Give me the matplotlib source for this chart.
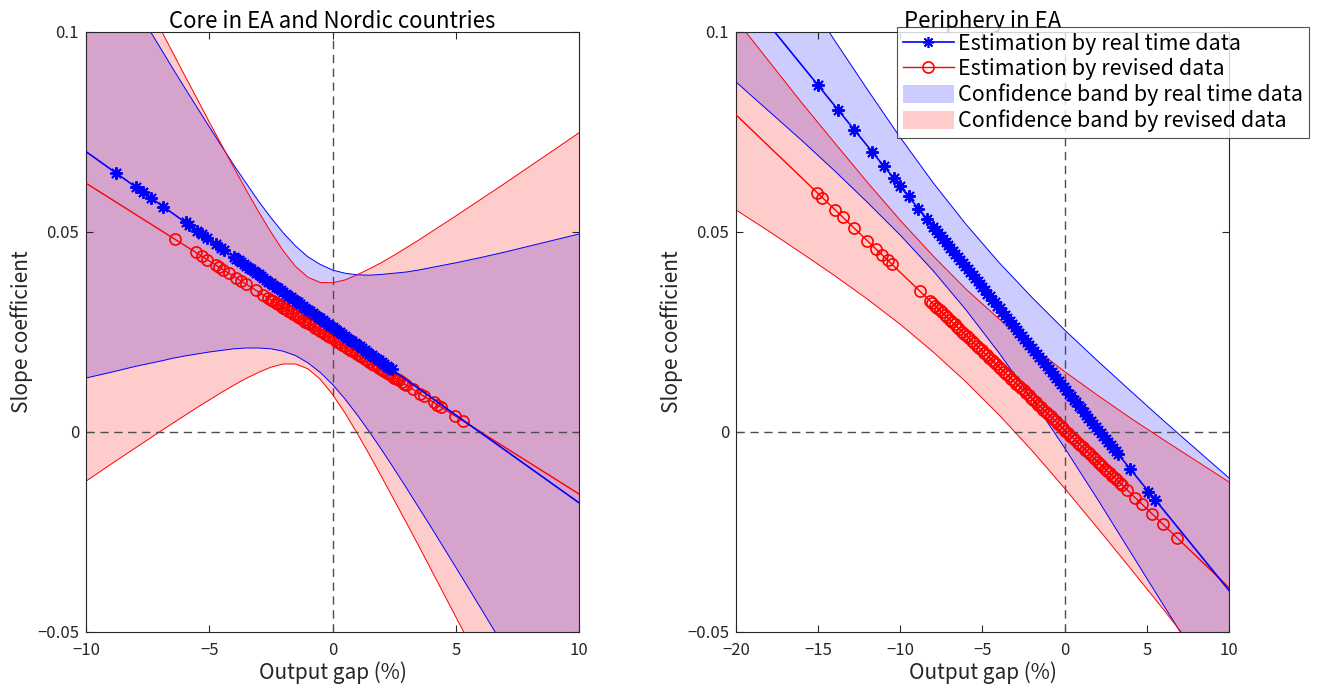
import matplotlib
matplotlib.use("Agg")
import matplotlib.pyplot as plt
from matplotlib.lines import Line2D
from matplotlib.patches import Patch

plt.rcParams['font.family'] = ['Noto Sans CJK JP', 'DejaVu Sans']
plt.rcParams['axes.unicode_minus'] = True

# ---------------- Left panel: Core in EA and Nordic countries ----------------
core_line_x = [-10, 10]
core_rt_line_y = [0.0701, -0.0177]
core_rv_line_y = [0.0622, -0.0155]

core_rt_gap = [-8.8, -7.98, -7.67, -7.38, -6.86, -5.96, -5.82, -5.48, -5.28, -5.08, -4.74, -4.54, -4.40,
               -4.0, -3.9, -3.8, -3.7, -3.6, -3.5, -3.4, -3.3, -3.2, -3.1, -3.0, -2.9, -2.8, -2.7, -2.6,
               -2.5, -2.4, -2.3, -2.2, -2.1, -2.0, -1.9, -1.8, -1.7, -1.6, -1.5, -1.4, -1.3, -1.2, -1.1,
               -1.0, -0.9, -0.8, -0.7, -0.6, -0.5, -0.4, -0.3, -0.2, -0.1, 0.0, 0.1, 0.2, 0.3, 0.4, 0.5,
               0.6, 0.7, 0.8, 0.9, 1.0, 1.1, 1.2, 1.3, 1.4, 1.5, 1.6, 1.7, 1.8, 1.9, 2.0, 2.1, 2.2, 2.3, 2.4]
core_rt_coef = [0.0648, 0.0612, 0.0599, 0.0586, 0.0563, 0.0524, 0.0518, 0.0503, 0.0494, 0.0485, 0.0470, 0.0461, 0.0455,
                0.0438, 0.0433, 0.0429, 0.0424, 0.0420, 0.0416, 0.0411, 0.0407, 0.0403, 0.0398, 0.0394, 0.0389,
                0.0385, 0.0381, 0.0376, 0.0372, 0.0367, 0.0363, 0.0359, 0.0354, 0.0350, 0.0345, 0.0341, 0.0337,
                0.0332, 0.0328, 0.0324, 0.0319, 0.0315, 0.0310, 0.0306, 0.0302, 0.0297, 0.0293, 0.0288, 0.0284,
                0.0280, 0.0275, 0.0271, 0.0266, 0.0262, 0.0258, 0.0253, 0.0249, 0.0244, 0.0240, 0.0236, 0.0231,
                0.0227, 0.0223, 0.0218, 0.0214, 0.0209, 0.0205, 0.0201, 0.0196, 0.0192, 0.0187, 0.0183, 0.0179,
                0.0174, 0.0170, 0.0165, 0.0161, 0.0157]

core_rv_gap = [-6.4, -5.55, -5.28, -5.08, -4.72, -4.6, -4.45, -4.2, -3.9, -3.7, -3.5, -3.1, -2.8,
               -2.6, -2.5, -2.4, -2.3, -2.2, -2.1, -2.0, -1.9, -1.8, -1.7, -1.6, -1.5, -1.4, -1.3, -1.2,
               -1.1, -1.0, -0.9, -0.8, -0.7, -0.6, -0.5, -0.4, -0.3, -0.2, -0.1, 0.0, 0.1, 0.2, 0.3, 0.4,
               0.5, 0.6, 0.7, 0.8, 0.9, 1.0, 1.1, 1.2, 1.3, 1.4, 1.5, 1.6, 1.7, 1.8, 1.9, 2.0, 2.1, 2.2,
               2.3, 2.4, 2.5, 2.6, 2.7, 2.8, 2.9, 3.0,
               3.25, 3.55, 3.7, 4.1, 4.25, 4.4, 4.97, 5.28]
core_rv_coef = [0.0482, 0.0449, 0.0439, 0.0431, 0.0417, 0.0412, 0.0406, 0.0397, 0.0385, 0.0377, 0.0370, 0.0354, 0.0342,
                0.0335, 0.0331, 0.0327, 0.0323, 0.0319, 0.0315, 0.0311, 0.0307, 0.0303, 0.0300, 0.0296, 0.0292,
                0.0288, 0.0284, 0.0280, 0.0276, 0.0272, 0.0269, 0.0265, 0.0261, 0.0257, 0.0253, 0.0249, 0.0245,
                0.0241, 0.0237, 0.0234, 0.0230, 0.0226, 0.0222, 0.0218, 0.0214, 0.0210, 0.0206, 0.0202, 0.0199,
                0.0195, 0.0191, 0.0187, 0.0183, 0.0179, 0.0175, 0.0171, 0.0168, 0.0164, 0.0160, 0.0156, 0.0152,
                0.0148, 0.0144, 0.0140, 0.0136, 0.0133, 0.0129, 0.0125, 0.0121, 0.0117,
                0.0107, 0.0096, 0.0090, 0.0074, 0.0068, 0.0063, 0.0040, 0.0028]

core_band_x = [-10, -9, -8, -7, -6.5, -6, -5.5, -5, -4.5, -4, -3.5, -3, -2.5, -2, -1.5, -1, -0.5, 0, 0.5,
               1, 1.5, 2, 2.5, 3, 3.5, 4, 5, 6, 7, 8, 9, 10]
core_rt_upper = [0.1267, 0.1165, 0.1063, 0.0962, 0.0911, 0.0861, 0.0812, 0.0763, 0.0715, 0.0667, 0.0622,
                 0.0577, 0.0536, 0.0498, 0.0465, 0.0438, 0.0419, 0.0405, 0.0397, 0.0393, 0.0392, 0.0394,
                 0.0397, 0.0400, 0.0405, 0.0411, 0.0423, 0.0436, 0.0450, 0.0465, 0.0480, 0.0495]
core_rt_lower = [0.0135, 0.0149, 0.0164, 0.0177, 0.0184, 0.0190, 0.0195, 0.0200, 0.0204, 0.0208, 0.0210,
                 0.0210, 0.0208, 0.0202, 0.0191, 0.0173, 0.0149, 0.0119, 0.0083, 0.0043, 0.0000, -0.0045,
                 -0.0092, -0.0140, -0.0189, -0.0238, -0.0338, -0.0439, -0.0541, -0.0643, -0.0746, -0.0849]
core_rv_upper = [0.1367, 0.1248, 0.1129, 0.1010, 0.0951, 0.0892, 0.0834, 0.0775, 0.0718, 0.0661, 0.0605,
                 0.0551, 0.0500, 0.0453, 0.0414, 0.0387, 0.0374, 0.0373, 0.0380, 0.0393, 0.0408, 0.0424,
                 0.0442, 0.0461, 0.0480, 0.0500, 0.0540, 0.0581, 0.0622, 0.0664, 0.0706, 0.0748]
core_rv_lower = [-0.0123, -0.0081, -0.0040, 0.0001, 0.0021, 0.0041, 0.0061, 0.0080, 0.0099, 0.0117, 0.0134,
                 0.0149, 0.0162, 0.0170, 0.0170, 0.0158, 0.0132, 0.0094, 0.0048, -0.0003, -0.0057, -0.0113,
                 -0.0170, -0.0227, -0.0285, -0.0344, -0.0462, -0.0580, -0.0699, -0.0819, -0.0938, -0.1058]

# ---------------- Right panel: Periphery in EA ----------------
peri_line_x = [-20, 10]
peri_rt_line_y = [0.1119, -0.0396]
peri_rv_line_y = [0.0793, -0.0389]

peri_rt_gap = [-15.0, -13.8, -12.8, -11.7, -11.0, -10.4, -10.0, -9.5, -8.9, -8.4,
               -8.00, -7.85, -7.70, -7.55, -7.40, -7.25, -7.10, -6.95, -6.80, -6.65, -6.50, -6.35, -6.20,
               -6.05, -5.90, -5.75, -5.60, -5.45, -5.30, -5.15, -5.00, -4.85, -4.70, -4.55, -4.40, -4.25,
               -4.10, -3.95, -3.80, -3.65, -3.50, -3.35, -3.20, -3.05, -2.90, -2.75, -2.60, -2.45, -2.30,
               -2.15, -2.00, -1.85, -1.70, -1.55, -1.40, -1.25, -1.10, -0.95, -0.80, -0.65, -0.50, -0.35,
               -0.20, -0.05, 0.10, 0.25, 0.40, 0.55, 0.70, 0.85, 1.00, 1.15, 1.30, 1.45, 1.60, 1.75, 1.90,
               2.05, 2.20, 2.35, 2.50, 2.65, 2.80, 2.95, 3.10, 3.25,
               4.0, 5.1, 5.5]
peri_rt_coef = [0.0867, 0.0806, 0.0755, 0.0700, 0.0665, 0.0634, 0.0614, 0.0589, 0.0558, 0.0533,
                0.0513, 0.0505, 0.0498, 0.0490, 0.0483, 0.0475, 0.0468, 0.0460, 0.0452, 0.0445, 0.0437, 0.0430,
                0.0422, 0.0415, 0.0407, 0.0399, 0.0392, 0.0384, 0.0377, 0.0369, 0.0362, 0.0354, 0.0346, 0.0339,
                0.0331, 0.0324, 0.0316, 0.0309, 0.0301, 0.0293, 0.0286, 0.0278, 0.0271, 0.0263, 0.0256, 0.0248,
                0.0240, 0.0233, 0.0225, 0.0218, 0.0210, 0.0202, 0.0195, 0.0187, 0.0180, 0.0172, 0.0165, 0.0157,
                0.0149, 0.0142, 0.0134, 0.0127, 0.0119, 0.0112, 0.0104, 0.0096, 0.0089, 0.0081, 0.0074, 0.0066,
                0.0059, 0.0051, 0.0043, 0.0036, 0.0028, 0.0021, 0.0013, 0.0006, -0.0002, -0.0010, -0.0017,
                -0.0025, -0.0032, -0.0040, -0.0048, -0.0055,
                -0.0093, -0.0149, -0.0169]

peri_rv_gap = [-15.05, -14.75, -13.95, -13.5, -12.8, -12.0, -11.5, -11.1, -10.75, -10.5, -8.8,
               -8.20, -8.05, -7.90, -7.75, -7.60, -7.45, -7.30, -7.15, -7.00, -6.85, -6.70, -6.55, -6.40,
               -6.25, -6.10, -5.95, -5.80, -5.65, -5.50, -5.35, -5.20, -5.05, -4.90, -4.75, -4.60, -4.45,
               -4.30, -4.15, -4.00, -3.85, -3.70, -3.55, -3.40, -3.25, -3.10, -2.95, -2.80, -2.65, -2.50,
               -2.35, -2.20, -2.05, -1.90, -1.75, -1.60, -1.45, -1.30, -1.15, -1.00, -0.85, -0.70, -0.55,
               -0.40, -0.25, -0.10, 0.05, 0.20, 0.35, 0.50, 0.65, 0.80, 0.95, 1.10, 1.25, 1.40, 1.55, 1.70,
               1.85, 2.00, 2.15, 2.30, 2.45, 2.60, 2.75, 2.90, 3.05, 3.20, 3.35, 3.50,
               3.8, 4.3, 4.7, 5.3, 6.0, 6.85]
peri_rv_coef = [0.0598, 0.0586, 0.0555, 0.0537, 0.0509, 0.0478, 0.0458, 0.0442, 0.0429, 0.0419, 0.0352,
                0.0328, 0.0322, 0.0316, 0.0310, 0.0304, 0.0299, 0.0293, 0.0287, 0.0281, 0.0275, 0.0269, 0.0263,
                0.0257, 0.0251, 0.0245, 0.0239, 0.0234, 0.0228, 0.0222, 0.0216, 0.0210, 0.0204, 0.0198, 0.0192,
                0.0186, 0.0180, 0.0174, 0.0169, 0.0163, 0.0157, 0.0151, 0.0145, 0.0139, 0.0133, 0.0127, 0.0121,
                0.0115, 0.0109, 0.0104, 0.0098, 0.0092, 0.0086, 0.0080, 0.0074, 0.0068, 0.0062, 0.0056, 0.0050,
                0.0044, 0.0039, 0.0033, 0.0027, 0.0021, 0.0015, 0.0009, 0.0003, -0.0003, -0.0009, -0.0015,
                -0.0021, -0.0027, -0.0032, -0.0038, -0.0044, -0.0050, -0.0056, -0.0062, -0.0068, -0.0074,
                -0.0080, -0.0086, -0.0092, -0.0097, -0.0103, -0.0109, -0.0115, -0.0121, -0.0127, -0.0133,
                -0.0145, -0.0164, -0.0180, -0.0204, -0.0231, -0.0265]

peri_band_x = [-20, -18, -16, -14, -12, -10, -8, -6, -4, -2, 0, 2, 4, 6, 8, 10]
peri_rt_upper = [0.1363, 0.1234, 0.1106, 0.0979, 0.0856, 0.0736, 0.0623, 0.0519, 0.0424, 0.0337, 0.0255,
                 0.0178, 0.0103, 0.0029, -0.0043, -0.0115]
peri_rt_lower = [0.0875, 0.0802, 0.0729, 0.0653, 0.0574, 0.0492, 0.0403, 0.0305, 0.0198, 0.0083, -0.0040,
                 -0.0168, -0.0300, -0.0432, -0.0563, -0.0693]
peri_rv_upper = [0.1031, 0.0927, 0.0823, 0.0723, 0.0624, 0.0529, 0.0440, 0.0357, 0.0283, 0.0214, 0.0151,
                 0.0092, 0.0035, -0.0019, -0.0072, -0.0125]
peri_rv_lower = [0.0555, 0.0502, 0.0447, 0.0391, 0.0332, 0.0269, 0.0200, 0.0125, 0.0043, -0.0046, -0.0141,
                 -0.0240, -0.0341, -0.0443, -0.0548, -0.0653]

titles = ["Core in EA and Nordic countries", "Periphery in EA"]
xlabel = "Output gap (%)"
ylabel = "Slope coefficient"
legend_labels = ["Estimation by real time data", "Estimation by revised data",
                 "Confidence band by real time data", "Confidence band by revised data"]

BLUE = (0, 0, 1)
RED = (1, 0, 0)
GRAYTXT = (0.15, 0.15, 0.15)

fig = plt.figure(figsize=(13.21, 6.94), dpi=100)
ax1 = fig.add_axes([86/1321, 1-632/694, 493/1321, 600/694])
ax2 = fig.add_axes([736/1321, 1-632/694, 493/1321, 600/694])

panels = [
    (ax1, core_band_x, core_rt_upper, core_rt_lower, core_rv_upper, core_rv_lower,
     core_line_x, core_rt_line_y, core_rv_line_y, core_rt_gap, core_rt_coef, core_rv_gap, core_rv_coef,
     (-10, 10), [-10, -5, 0, 5, 10]),
    (ax2, peri_band_x, peri_rt_upper, peri_rt_lower, peri_rv_upper, peri_rv_lower,
     peri_line_x, peri_rt_line_y, peri_rv_line_y, peri_rt_gap, peri_rt_coef, peri_rv_gap, peri_rv_coef,
     (-20, 10), [-20, -15, -10, -5, 0, 5, 10]),
]

for (ax, bx, rtu, rtl, rvu, rvl, lx, rtly, rvly, rtg, rtc, rvg, rvc, xlim, xticks), title in zip(panels, titles):
    ax.fill_between(bx, rtl, rtu, facecolor=BLUE, alpha=0.2, edgecolor='none', zorder=1)
    ax.fill_between(bx, rvl, rvu, facecolor=RED, alpha=0.2, edgecolor='none', zorder=1.1)
    for yv, c in ((rtu, BLUE), (rtl, BLUE), (rvu, RED), (rvl, RED)):
        ax.plot(bx, yv, color=c, lw=0.7, zorder=2)
    ax.axvline(0, color=(0.3, 0.3, 0.3), lw=1.0, ls=(0, (6, 4)), zorder=2.5)
    ax.axhline(0, color=(0.3, 0.3, 0.3), lw=1.0, ls=(0, (6, 4)), zorder=2.5)
    ax.plot(lx, rvly, color=RED, lw=1.0, zorder=3)
    ax.plot(rvg, rvc, ls='none', marker='o', ms=8, mfc='none', mec=RED, mew=1.2, zorder=3)
    ax.plot(lx, rtly, color=BLUE, lw=1.2, zorder=4)
    ax.plot(rtg, rtc, ls='none', marker=(8, 2, 0), ms=9, mec=BLUE, mew=1.4, zorder=4)

    ax.set_xlim(*xlim)
    ax.set_ylim(-0.05, 0.1)
    ax.set_xticks(xticks)
    ax.set_xticklabels([("\u2212" + str(abs(t))) if t < 0 else str(t) for t in xticks])
    ax.set_yticks([-0.05, 0, 0.05, 0.1])
    ax.set_yticklabels(["\u22120.05", "0", "0.05", "0.1"])
    ax.tick_params(direction='in', length=5, width=0.8, colors=GRAYTXT,
                   labelsize=12, top=True, right=True, pad=5)
    ax.tick_params(axis='x', pad=7)
    for s in ax.spines.values():
        s.set_color(GRAYTXT)
        s.set_linewidth(0.8)
    ax.set_title(title, fontsize=16, color='black', pad=3)
    ax.set_xlabel(xlabel, fontsize=15, labelpad=2, color=GRAYTXT)
    ax.set_ylabel(ylabel, fontsize=15, labelpad=3, color=GRAYTXT)

handles = [
    Line2D([], [], color=BLUE, lw=1.2, marker=(8, 2, 0), ms=8, mec=BLUE, mew=1.2),
    Line2D([], [], color=RED, lw=1.0, marker='o', ms=8, mfc='none', mec=RED, mew=1.2),
    Patch(facecolor=(0.8, 0.8, 1.0), edgecolor='none'),
    Patch(facecolor=(1.0, 0.8, 0.8), edgecolor='none'),
]
leg = fig.legend(handles, legend_labels, loc='upper right', bbox_to_anchor=(1309/1321, 1-27/694),
                 fontsize=15.5, frameon=True, fancybox=False, edgecolor=GRAYTXT,
                 handlelength=2.37, handleheight=0.9, handletextpad=0.2, borderpad=0.28,
                 labelspacing=0.15, borderaxespad=0)
leg.get_frame().set_linewidth(0.8)
leg.set_zorder(10)

fig.savefig("out.png", dpi=100)
